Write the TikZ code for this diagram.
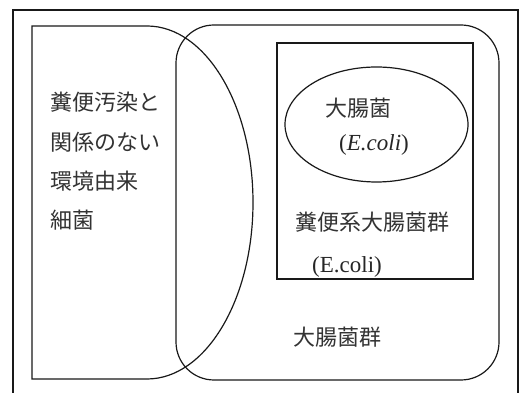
\documentclass[tikz,border=0pt]{standalone}
\usepackage{fontspec}
\setmainfont{Liberation Serif}
\newfontfamily\jp{Noto Sans CJK JP}
\begin{document}
\begin{tikzpicture}[x=1pt,y=1pt,
  line/.style={draw=black!90,line width=1.2pt},
  lbl/.style={inner sep=0pt,anchor=west,text=black!80,font=\jp\fontsize{22}{26}\selectfont},
  lat/.style={inner sep=0pt,anchor=west,text=black!85,font=\fontsize{23}{26}\selectfont}]
\useasboundingbox (0,0) rectangle (523,393);
% outer frame (open at bottom)
\draw[line] (13,0) -- (13,383) -- (518,383) -- (518,0);
% left shape
\draw[line] (147,14) -- (32,14) -- (32,367) -- (147,367)
  arc[start angle=90,end angle=-90,x radius=106,y radius=176.5];
% coliform group
\draw[line,rounded corners=38pt] (176,13) rectangle (499,368);
% fecal coliform box
\draw[line,line width=1.6pt] (277,114) rectangle (473,350);
% E.coli ellipse
\draw[line] (376.5,268.5) ellipse[x radius=91.5,y radius=57.5];
% texts
\node[lbl] (l1) at (50,291) {糞便汚染と};
\node[lbl] (l2) at (50,251) {関係のない};
\node[lbl] (l3) at (50,212) {環境由来};
\node[lbl] (l4) at (50,173) {細菌};
\node[lbl] (ec) at (325,285) {大腸菌};
\node[lat] (ecl) at (339,248) {(\textit{E.coli})};
\node[lbl] (fc) at (295,171) {糞便系大腸菌群};
\node[lat] (fcl) at (312,126) {(E.coli)};
\node[lbl] (cg) at (293,56) {大腸菌群};
\end{tikzpicture}
\end{document}
